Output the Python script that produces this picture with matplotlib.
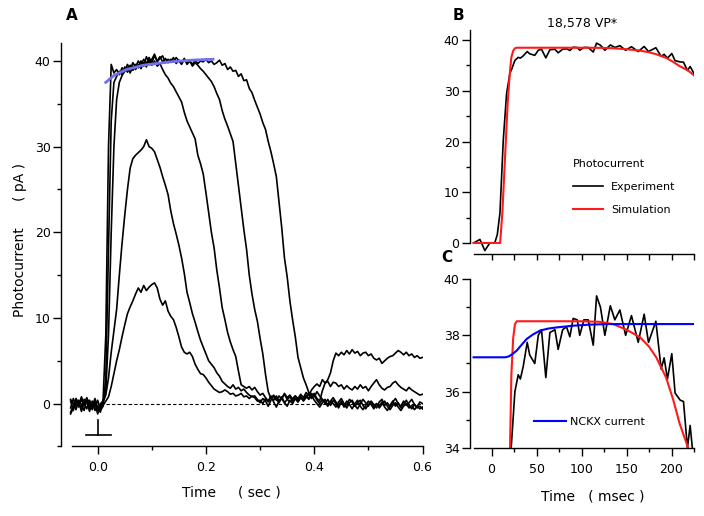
#!/usr/bin/env python3
"""
Rod photocurrent responses (A) and model fits (B, C)
"""

import numpy as np
import matplotlib.pyplot as plt
from matplotlib.ticker import MultipleLocator

plt.rcParams['font.family'] = ['DejaVu Sans']

# ---------------- Panel A data: time grid in sec, currents in pA ----------------
t_a = np.round(np.arange(-0.05, 0.6001, 0.005), 3)

dim_flash = [
    -1.2, -0.5, 0.3, -0.4, 0.5, -0.2, 0.4, -0.6, 0.2, -0.8,
    -0.3, -0.5, -0.2, 0.3, 0.8, 2.0, 3.5, 5.0, 6.3, 7.8,
    9.2, 10.5, 11.3, 12.0, 12.8, 13.5, 13.0, 13.8, 13.2, 13.6,
    13.9, 14.1, 13.5, 12.2, 11.5, 12.0, 10.8, 10.2, 9.8, 8.9,
    7.8, 6.6, 6.0, 5.8, 6.0, 5.5, 4.6, 4.0, 3.5, 3.4,
    3.0, 2.5, 2.1, 1.7, 1.5, 1.3, 1.4, 1.6, 1.4, 1.1,
    1.2, 0.9, 1.0, 1.2, 0.8, 0.9, 0.6, 0.9, 0.7, 0.3,
    0.4, 0.0, 0.6, 0.2, 0.8, 0.4, 0.9, 0.3, 0.6, 0.1,
    0.5, 0.8, 0.3, 0.6, 0.2, 0.7, 0.4, 0.9, 0.5, 1.0,
    0.4, 0.0, -0.4, 0.1, 0.5, -0.2, 0.3, 0.0, -0.4, 0.2,
    0.6, 0.0, -0.5, 0.1, 0.4, -0.2, -0.6, 0.0, 0.5, 0.1,
    -0.3, 0.3, -0.1, -0.5, 0.2, 0.5, -0.2, 0.1, -0.4, 0.2,
    0.6, 0.0, -0.3, 0.3, -0.2, 0.1, 0.5, -0.1, -0.4, 0.2,
    0.0]

mid_flash = [
    -0.5, 0.6, -0.3, 0.2, -0.9, 0.1, 0.7, -0.2, -0.7, 0.3,
    -1.0, -0.4, 0.2, 1.0, 3.0, 6.0, 8.5, 11.0, 15.0, 18.7,
    22.0, 25.0, 27.5, 28.6, 29.0, 29.3, 29.6, 30.0, 30.8, 30.0,
    29.8, 29.4, 28.5, 27.6, 26.5, 25.5, 24.4, 22.5, 21.0, 19.8,
    18.5, 17.0, 15.2, 13.0, 11.8, 10.5, 9.5, 8.4, 7.4, 6.6,
    5.8, 5.0, 4.6, 4.2, 3.6, 3.2, 2.6, 2.3, 2.0, 1.8,
    2.2, 1.7, 1.9, 1.5, 1.7, 1.3, 1.0, 0.8, 0.9, 0.5,
    0.1, 0.6, 0.3, -0.3, 0.4, 0.9, 0.5, 0.1, 0.7, 1.1,
    0.5, 0.2, 0.6, 0.9, 0.4, 0.8, 0.3, 0.7, 1.1, 0.6,
    1.0, 0.4, 0.0, 0.5, 0.2, -0.3, 0.3, 0.7, 0.2, -0.2,
    0.3, -0.4, -0.1, 0.5, 0.2, -0.3, 0.1, 0.4, -0.2, -0.6,
    -0.1, 0.2, -0.4, 0.0, -0.5, -0.1, 0.3, -0.3, -0.7, -0.2,
    0.1, -0.4, -0.8, -0.3, 0.0, -0.5, -0.2, -0.7, -0.3, -0.6,
    -0.4]

sat_flash_1 = [
    0.5, 0.0, -0.7, 0.4, -0.1, -0.8, 0.5, 0.1, -0.4, 0.2,
    -1.2, 0.0, 0.3, 1.5, 8.0, 20.0, 30.0, 35.5, 37.5, 38.3,
    38.8, 39.2, 38.6, 39.4, 39.0, 39.6, 39.1, 39.8, 39.3, 40.3,
    39.5, 40.0, 39.4, 39.7, 39.0, 38.4, 38.0, 37.4, 37.0, 36.4,
    35.8, 35.2, 34.0, 33.0, 32.3, 31.6, 30.9, 29.0, 28.0, 26.8,
    24.6, 22.3, 20.0, 18.2, 15.6, 13.5, 11.2, 9.8, 8.3, 7.2,
    6.3, 5.5, 3.8, 2.2, 2.0, 1.8, 2.0, 1.6, 1.9, 1.4,
    1.0, 1.2, 0.7, 0.3, 0.9, 0.2, -0.4, 0.3, 0.8, 0.1,
    -0.3, 0.4, 0.0, 0.6, 0.2, 0.8, 0.4, 1.0, 0.6, 1.2,
    0.8, 1.4, 0.9, 0.5, 0.0, 0.5, -0.2, 0.4, 0.0, -0.5,
    0.2, -0.3, 0.3, -0.1, -0.6, 0.0, 0.4, -0.3, -0.7, -0.2,
    0.3, -0.1, -0.6, 0.0, -0.3, 0.2, -0.4, -0.8, -0.2, 0.3,
    -0.3, 0.1, -0.5, -0.1, 0.4, -0.2, -0.6, -0.1, -0.5, -0.3,
    -0.6]

sat_flash_2 = [
    -1.0, -0.2, 0.6, 0.0, -0.5, 0.5, 0.2, -0.9, 0.3, -0.4,
    0.4, -0.8, -0.3, 3.0, 18.0, 33.0, 37.5, 38.2, 38.8, 38.4,
    39.3, 38.7, 39.5, 38.9, 39.6, 39.2, 40.0, 39.4, 40.5, 39.8,
    40.2, 40.8, 39.9, 40.3, 40.6, 39.8, 40.2, 39.9, 40.4, 39.7,
    40.1, 39.8, 40.3, 39.6, 40.0, 39.4, 39.8, 39.5, 39.1, 38.8,
    38.4, 38.0, 37.6, 37.0, 36.2, 35.5, 34.2, 33.2, 32.4, 31.5,
    30.6, 28.0, 25.5, 22.8, 20.3, 18.0, 15.0, 12.8, 11.0, 9.6,
    7.6, 5.8, 3.4, 1.4, 0.6, 1.0, 0.4, 0.9, 0.5, 1.2,
    0.7, 1.0, 0.5, 0.9, 0.6, 1.1, 0.7, 1.3, 1.0, 1.6,
    2.0, 2.3, 2.0, 2.8, 2.4, 2.6, 2.0, 2.5, 2.4, 2.0,
    2.2, 1.7, 2.1, 1.8, 1.6, 2.0, 1.7, 2.2, 1.8, 2.0,
    1.5, 2.0, 2.4, 2.8, 2.2, 1.8, 1.6, 1.9, 2.0, 2.4,
    2.6, 2.2, 1.9, 1.7, 1.5, 1.9, 1.6, 1.4, 1.2, 1.0,
    1.1]

sat_flash_3 = [
    0.3, -0.8, 0.5, -0.2, 0.8, 0.0, -0.6, 0.4, -0.3, 0.6,
    -0.5, -1.0, 0.5, 8.0, 30.0, 39.6, 38.6, 39.0, 38.4, 39.2,
    38.8, 39.6, 39.0, 39.8, 39.3, 40.0, 39.5, 40.2, 39.7, 40.4,
    39.8, 40.6, 40.0, 40.5, 39.9, 40.3, 39.8, 40.2, 39.9, 40.4,
    40.0, 39.6, 40.2, 39.8, 40.0, 39.6, 40.1, 39.7, 40.0, 39.9,
    40.2, 39.8, 40.0, 39.6, 39.8, 40.1, 39.5, 39.7, 39.0, 39.3,
    38.8, 38.9, 38.2, 38.5, 37.7, 37.8, 36.8, 36.3, 35.4, 34.6,
    33.8, 32.8, 32.0, 30.6, 29.4, 28.0, 26.5, 23.5, 20.5, 17.0,
    14.8, 12.0, 9.8, 7.8, 5.4, 4.2, 3.0, 2.2, 1.3, 0.9,
    1.2, 0.6, 0.3, 1.5, 2.4, 2.8, 3.6, 5.0, 5.9, 5.6,
    6.0, 5.7, 6.2, 5.8, 6.3, 5.9, 6.1, 5.6, 5.9, 6.0,
    5.6, 5.8, 5.3, 5.1, 5.3, 4.7, 5.0, 5.3, 5.5, 5.6,
    5.9, 6.2, 6.0, 5.7, 6.0, 5.6, 5.8, 5.4, 5.6, 5.3,
    5.4]

traces_a = [dim_flash, mid_flash, sat_flash_1, sat_flash_2, sat_flash_3]

# saturated plateau fit (blue)
fit_t = [0.015, 0.03, 0.053, 0.084, 0.134, 0.175, 0.213]
fit_i = [37.5, 38.3, 39.0, 39.5, 39.9, 40.1, 40.2]

# flash marker
stim_t = [0.0, 0.0]
stim_i = [-1.9, -3.6]
stim_bar_t = [-0.021, 0.025]

# ---------------- Panels B/C data: time in msec, currents in pA ----------------
exp_t = [-20, -13, -7.5, -2, 3.5, 6.3, 9.3, 13, 16.7, 20.4, 22.2, 25.9, 29.6,
         32, 35.2, 39.6, 42.4, 48, 51.9, 55.5, 60.3, 64.8, 70.4, 74, 79, 83.3,
         87, 90.7, 95.2, 98, 102.6, 107.4, 113, 116.7, 121, 125.9, 132, 137,
         142.6, 149, 155.5, 163, 169.6, 174.4, 182.6, 188.5, 191.8, 195.5,
         200.3, 204, 209.6, 213.3, 217.7, 220.7, 224.4, 226]
exp_i = [0, 0.7, -1.5, 0, 0, 1.6, 5.9, 20.3, 29.5, 33.5, 34.2, 36.0, 36.6,
         36.45, 36.9, 37.75, 37.3, 37.0, 38.0, 38.2, 36.5, 38.1, 38.2, 37.5,
         38.2, 38.3, 37.95, 38.6, 38.55, 38.0, 38.55, 38.55, 37.65, 39.4, 39.0,
         38.0, 39.05, 38.55, 38.9, 38.0, 38.7, 37.75, 38.75, 37.75, 38.5, 36.8,
         37.2, 36.45, 37.35, 35.95, 35.7, 35.65, 34.0, 34.8, 33.6, 32.9]

sim_t = [-20, 9.5, 12, 15, 18, 20.5, 22, 24, 26, 28, 30, 60, 100, 120, 135,
         150, 165, 175, 183, 194, 202, 209, 218.5, 226]
sim_i = [0, 0, 6, 17, 28, 34, 36.6, 37.9, 38.4, 38.5, 38.5, 38.5, 38.5, 38.48,
         38.4, 38.2, 37.93, 37.6, 37.22, 36.5, 35.7, 34.87, 34.0, 32.9]

nckx_t = [-20, 15, 19, 23, 28, 33, 39, 46, 54, 63, 72, 90, 109, 130, 226]
nckx_i = [37.22, 37.22, 37.25, 37.33, 37.46, 37.65, 37.87, 38.03, 38.17,
          38.24, 38.28, 38.34, 38.38, 38.4, 38.4]

vp_label = '18,578 VP*'

fig = plt.figure(figsize=(7.04, 5.16), dpi=100)


def style_axes(ax, xbounds, ybounds, fs=9):
    ax.spines['top'].set_visible(False)
    ax.spines['right'].set_visible(False)
    ax.spines['bottom'].set_bounds(*xbounds)
    ax.spines['left'].set_bounds(*ybounds)
    for s in ('left', 'bottom'):
        ax.spines[s].set_linewidth(1.0)
    ax.tick_params(which='major', direction='out', length=5.5, width=1.0,
                   labelsize=fs, pad=2)
    ax.tick_params(which='minor', direction='out', length=3.2, width=1.0)
    ax.tick_params(axis='x', which='major', pad=5)


# ---------------- Panel A ----------------
axA = fig.add_axes([0.0866, 0.1347, 0.5136, 0.782])
for tr in traces_a:
    axA.plot(t_a, tr, color='black', lw=1.2)
axA.plot(fit_t, fit_i, color='#7070ee', lw=2.0)
axA.hlines(0, 0.015, 0.6, colors='black', linestyles=(0, (3, 2)), lw=0.8)
axA.plot(stim_t, stim_i, color='black', lw=1.2)
axA.plot(stim_bar_t, [stim_i[1], stim_i[1]], color='black', lw=1.2)
axA.set_xlim(-0.0678, 0.6)
axA.set_ylim(-5, 42.1)
axA.xaxis.set_minor_locator(MultipleLocator(0.1))
axA.yaxis.set_major_locator(MultipleLocator(10))
axA.yaxis.set_minor_locator(MultipleLocator(5))
axA.set_xticks([0.0, 0.2, 0.4, 0.6])
axA.set_xticklabels(['0.0', '0.2', '0.4', '0.6'])
style_axes(axA, (-0.048, 0.6), (-5, 42.1))

# ---------------- Panel B ----------------
axB = fig.add_axes([0.6676, 0.5078, 0.3182, 0.4341])
axB.plot(exp_t, exp_i, color='black', lw=1.2, label='Experiment')
axB.plot(sim_t, sim_i, color='#ff1a1a', lw=1.5, label='Simulation')
axB.set_xlim(-24, 225)
axB.set_ylim(-2.17, 42)
axB.xaxis.set_major_locator(MultipleLocator(50))
axB.xaxis.set_minor_locator(MultipleLocator(25))
axB.yaxis.set_major_locator(MultipleLocator(10))
axB.yaxis.set_minor_locator(MultipleLocator(5))
style_axes(axB, (-20, 225), (0, 42))
axB.tick_params(axis='x', which='both', labelbottom=False, length=4.0)
axB.set_title(vp_label, fontsize=9, pad=1)
axB.legend(title='Photocurrent', loc='upper left', frameon=False,
           bbox_to_anchor=(573 / 704, 1 - 159 / 516),
           bbox_transform=fig.transFigure, fontsize=8,
           title_fontsize=8, handlelength=2.7, handletextpad=0.7,
           labelspacing=1.15, borderpad=0, borderaxespad=0,
           alignment='left')

# ---------------- Panel C ----------------
axC = fig.add_axes([0.6676, 0.1318, 0.3182, 0.3275])
axC.plot(exp_t, exp_i, color='black', lw=1.2)
axC.plot(sim_t, sim_i, color='#ff1a1a', lw=1.5)
axC.plot(nckx_t, nckx_i, color='#0000ff', lw=1.5, label='NCKX current')
axC.set_xlim(-24, 225)
axC.set_ylim(34, 40)
axC.xaxis.set_major_locator(MultipleLocator(50))
axC.xaxis.set_minor_locator(MultipleLocator(25))
axC.yaxis.set_major_locator(MultipleLocator(2))
axC.yaxis.set_minor_locator(MultipleLocator(1))
style_axes(axC, (-20, 225), (34, 40))
axC.legend(loc='center left', frameon=False,
           bbox_to_anchor=(534 / 704, 1 - 422 / 516),
           bbox_transform=fig.transFigure, fontsize=8,
           handlelength=2.9, handletextpad=0.3, borderpad=0,
           borderaxespad=0)

# ---------------- labels ----------------
fig.text(20 / 704, 1 - 240 / 516, 'Photocurrent      ( pA )', rotation=90,
         ha='center', va='center', fontsize=10)
fig.text(231 / 704, 1 - 492 / 516, 'Time     ( sec )', ha='center',
         va='center', fontsize=10)
fig.text(593 / 704, 1 - 496 / 516, 'Time   ( msec )', ha='center',
         va='center', fontsize=10)
fig.text(72 / 704, 1 - 15 / 516, 'A', ha='center', va='center',
         fontsize=11, fontweight='bold')
fig.text(458 / 704, 1 - 15 / 516, 'B', ha='center', va='center',
         fontsize=11, fontweight='bold')
fig.text(447 / 704, 1 - 258 / 516, 'C', ha='center', va='center',
         fontsize=11, fontweight='bold')

plt.savefig('out.png', dpi=100)
